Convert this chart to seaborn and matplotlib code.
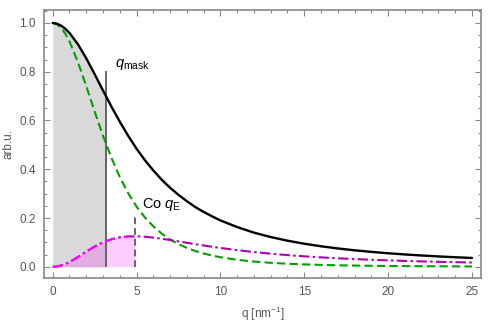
import matplotlib
matplotlib.use("Agg")
import matplotlib.pyplot as plt
from matplotlib.ticker import MultipleLocator
import numpy as np
import pandas as pd
import seaborn as sns

# ---- data ----
q = [0, 0.25, 0.5, 0.75, 1.0, 1.5, 2.0, 2.5, 3.0, 3.5, 4.0, 4.5, 5.0, 5.5, 6.0, 6.5, 7.0,
     7.5, 8.0, 8.5, 9.0, 9.5, 10, 11, 12, 13, 14, 15, 16, 17, 18, 19, 20,
     21, 22, 23, 24, 25]
black = [1.0, 0.997, 0.989, 0.976, 0.959, 0.913, 0.855, 0.790, 0.723, 0.657, 0.595, 0.537,
         0.484, 0.437, 0.395, 0.357, 0.324, 0.295, 0.269, 0.245, 0.225, 0.207,
         0.190, 0.163, 0.140, 0.122, 0.107, 0.0946, 0.0841, 0.0752, 0.0676,
         0.0611, 0.0555, 0.0506, 0.0463, 0.0425, 0.0392, 0.0362]
green = [1.0, 0.995, 0.980, 0.956, 0.924, 0.840, 0.741, 0.637, 0.537, 0.447, 0.368, 0.302,
         0.247, 0.202, 0.166, 0.136, 0.112, 0.0931, 0.0775, 0.0649, 0.0546,
         0.0462, 0.0392, 0.0287, 0.0214, 0.0163, 0.0125, 0.0098, 0.0077,
         0.0062, 0.0050, 0.0041, 0.0034, 0.0029, 0.0024, 0.0020, 0.0017, 0.0014]
magenta = [0.0, 0.0013, 0.0052, 0.0115, 0.0196, 0.0399, 0.0622, 0.0831, 0.1003, 0.1128, 0.1207,
           0.1245, 0.1251, 0.1233, 0.1197, 0.1151, 0.1098, 0.1042, 0.0985,
           0.0928, 0.0874, 0.0822, 0.0772, 0.0683, 0.0605, 0.0537, 0.0479,
           0.0429, 0.0386, 0.0349, 0.0316, 0.0288, 0.0263, 0.0241, 0.0221,
           0.0204, 0.0189, 0.0175]
q_mask = 3.18
q_E = 4.91
q_mask_top = 0.805
q_E_top = 0.205
xticks = [0, 5, 10, 15, 20, 25]
yticks = [0.0, 0.2, 0.4, 0.6, 0.8, 1.0]

df = pd.DataFrame({"q": q, "black": black, "green": green, "magenta": magenta})

sns.set_theme(style="ticks")
plt.rcParams["font.family"] = ["Liberation Sans", "DejaVu Sans"]
plt.rcParams["mathtext.fontset"] = "custom"
plt.rcParams["mathtext.rm"] = "Liberation Sans"
plt.rcParams["mathtext.it"] = "Liberation Sans:italic"

fig = plt.figure(figsize=(4.91, 3.29), dpi=100)
ax = fig.add_axes([0.0896, 0.155, 0.979 - 0.0896, 0.971 - 0.155])

# fills
qa = np.array(q, dtype=float)
ba = np.array(black)
ma = np.array(magenta)
qg = np.append(qa[qa < q_mask], q_mask)
bg = np.interp(qg, qa, ba)
ax.fill_between(qg, 0, bg, color="#d9d9d9", lw=0, zorder=1)
qm = np.append(qa[qa < q_E], q_E)
mm = np.interp(qm, qa, ma)
ax.fill_between(qm, 0, mm, color="#ff00ff", alpha=0.2, lw=0, zorder=2)

# vertical markers
ax.vlines(q_mask, 0, q_mask_top, color="#666666", lw=1.4, zorder=3)
ax.vlines(q_E, 0, q_E_top, color="#666666", lw=1.4, linestyles=(0, (3.5, 2)), zorder=3)

# curves
sns.lineplot(data=df, x="q", y="black", color="black", lw=1.7, ax=ax, zorder=5)
sns.lineplot(data=df, x="q", y="green", color="#00a000", lw=1.5,
             linestyle=(0, (4, 2)), ax=ax, zorder=4)
sns.lineplot(data=df, x="q", y="magenta", color="#b000b0", lw=1.5,
             linestyle=(0, (5, 1.6, 1.2, 1.6)), ax=ax, zorder=4)
dfl = df[df["q"] <= q_E]
sns.lineplot(data=dfl, x="q", y="magenta", color="#ff00ff", lw=1.5,
             linestyle=(0, (5, 1.6, 1.2, 1.6)), ax=ax, zorder=4)

ax.text(3.7, 0.828, r"$q_{\mathrm{mask}}$", fontsize=10.5, ha="left", va="center", color="black")
ax.text(5.35, 0.255, r"Co $q_{\mathrm{E}}$", fontsize=10.5, ha="left", va="center", color="black")

ax.set_xlim(-0.52, 25.52)
ax.set_ylim(-0.046, 1.055)
ax.set_xticks(xticks)
ax.set_xticklabels([str(t) for t in xticks])
ax.set_yticks(yticks)
ax.set_yticklabels([f"{t:.1f}" for t in yticks])
ax.xaxis.set_minor_locator(MultipleLocator(1))
ax.yaxis.set_minor_locator(MultipleLocator(0.05))
ax.tick_params(which="both", direction="in", top=True, right=True, color="#888888",
               labelcolor="#555555", labelsize=8.5, width=0.8)
ax.tick_params(which="major", length=4, pad=6)
ax.tick_params(which="minor", length=2)
for s in ax.spines.values():
    s.set_color("#888888")
    s.set_linewidth(1.2)

ax.set_xlabel(r"q [nm$^{-1}$]", fontsize=8.5, color="#555555", labelpad=5)
ax.set_ylabel("arb.u.", fontsize=8.5, color="#555555", labelpad=3)

fig.savefig("out.png", dpi=100)
